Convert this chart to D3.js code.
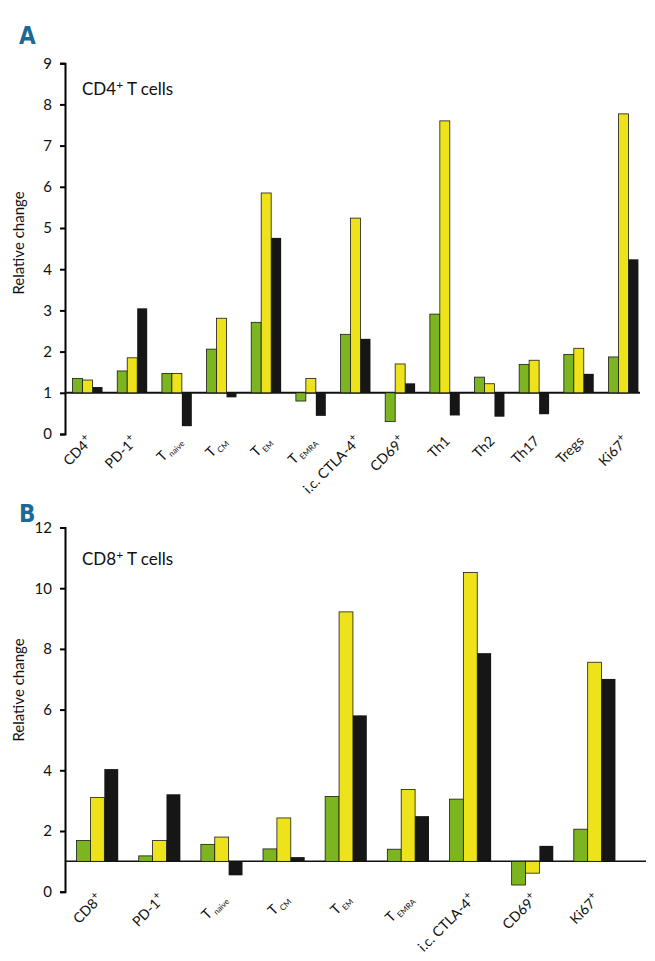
<!DOCTYPE html>
<html>
<head>
<meta charset="utf-8">
<script src="https://cdn.jsdelivr.net/npm/d3@7"></script>
<style>
  body { margin: 0; background: #fff; }
  svg text { font-family: Lato, "Open Sans", sans-serif; fill: #111; }
</style>
</head>
<body>
<div id="chart"></div>
<script>
// "^" marks a superscript, "_" a subscript
const categoriesA = ['CD4^+', 'PD-1^+', 'T_naive', 'T_CM', 'T_EM', 'T_EMRA', 'i.c. CTLA-4^+', 'CD69^+', 'Th1', 'Th2', 'Th17', 'Tregs', 'Ki67^+'];
const greenA  = [1.35, 1.53, 1.47, 2.06, 2.71, 0.80, 2.42, 0.30, 2.91, 1.38, 1.69, 1.93, 1.87];
const yellowA = [1.31, 1.85, 1.47, 2.81, 5.85, 1.35, 5.24, 1.70, 7.60, 1.22, 1.79, 2.08, 7.77];
const blackA  = [1.14, 3.05, 0.19, 0.89, 4.76, 0.44, 2.31, 1.23, 0.45, 0.42, 0.48, 1.46, 4.24];
const ticksA = [0, 1, 2, 3, 4, 5, 6, 7, 8, 9];

const categoriesB = ['CD8^+', 'PD-1^+', 'T_naive', 'T_CM', 'T_EM', 'T_EMRA', 'i.c. CTLA-4^+', 'CD69^+', 'Ki67^+'];
const greenB  = [1.69, 1.18, 1.56, 1.41, 3.14, 1.40, 3.05, 0.22, 2.06];
const yellowB = [3.10, 1.69, 1.80, 2.43, 9.22, 3.37, 10.52, 0.61, 7.56];
const blackB  = [4.04, 3.21, 0.54, 1.14, 5.81, 2.49, 7.86, 1.51, 7.01];
const ticksB = [0, 2, 4, 6, 8, 10, 12];

const colors = ['#7cb520', '#eee31b', '#161616'];

const svg = d3.select('#chart').append('svg')
    .attr('width', 655)
    .attr('height', 961);

function addLabel(text, parts, subSize) {
    // split on ^ (super) or _ (sub)
    const m = parts.match(/^([^_^]*)([_^])(.*)$/);
    if (!m) { text.text(parts); return; }
    text.append('tspan').text(m[1]);
    text.append('tspan')
        .attr('font-size', subSize)
        .attr('dy', m[2] === '^' ? -6 : 3)
        .attr('dx', m[2] === '_' ? 2 : 0)
        .text(m[3]);
}

function drawPanel(cfg) {
    const g = svg.append('g');

    const x = d3.scaleBand()
        .domain(cfg.categories)
        .range(cfg.xRange)
        .paddingInner(0.33)
        .paddingOuter(0.17);

    const sub = d3.scaleBand()
        .domain([0, 1, 2])
        .range([0, x.bandwidth()]);

    const y = d3.scaleLinear()
        .domain(cfg.yDomain)
        .range(cfg.yRange);

    // y axis
    const axis = g.append('g')
        .attr('transform', `translate(65,0)`)
        .call(d3.axisLeft(y).tickValues(cfg.ticks).tickSize(5).tickPadding(8));
    axis.select('.domain').attr('stroke', '#000').attr('stroke-width', 2);
    axis.selectAll('.tick line').attr('stroke', '#000').attr('stroke-width', 2);
    axis.selectAll('.tick text')
        .style('font-family', 'Lato, "Open Sans", sans-serif')
        .style('font-size', '15px')
        .attr('fill', '#111');

    // baseline at 1
    g.append('line')
        .attr('x1', 65).attr('x2', cfg.baseEnd)
        .attr('y1', y(1)).attr('y2', y(1))
        .attr('stroke', '#111')
        .attr('stroke-width', cfg.baseWidth);

    const series = [cfg.green, cfg.yellow, cfg.black];
    series.forEach((vals, si) => {
        g.selectAll(null)
            .data(vals)
            .enter().append('rect')
            .attr('x', (d, i) => x(cfg.categories[i]) + sub(si))
            .attr('width', sub.bandwidth())
            .attr('y', d => y(Math.max(d, 1)))
            .attr('height', d => Math.abs(y(d) - y(1)))
            .attr('fill', colors[si])
            .attr('stroke', si < 2 ? '#1a1a1a' : 'none')
            .attr('stroke-width', 0.8);
    });

    // x labels, rotated 45 degrees, ending under each group
    cfg.categories.forEach(c => {
        const t = g.append('text')
            .attr('text-anchor', 'end')
            .attr('font-size', 14)
            .attr('transform', `translate(${x(c) + x.bandwidth() / 2 + 6},${cfg.labelY}) rotate(-45)`);
        addLabel(t, c, c.includes('_') ? 8 : 11);
    });

    // panel letter
    svg.append('text')
        .attr('x', 19).attr('y', cfg.letterY)
        .style('font-family', '"DejaVu Sans Condensed", "DejaVu Sans", sans-serif')
        .style('font-weight', 'bold')
        .style('font-size', '24px')
        .style('fill', '#1b6a93')
        .text(cfg.letter);

    // cell type title
    const title = svg.append('text')
        .attr('x', 82).attr('y', cfg.titleY)
        .attr('font-size', 17);
    title.append('tspan').text(cfg.title);
    title.append('tspan').attr('font-size', 12).attr('dy', -6).text('+');
    title.append('tspan').attr('dy', 6).text(' T cells');

    // axis title
    svg.append('text')
        .attr('transform', `translate(24,${cfg.yTitleY}) rotate(-90)`)
        .attr('text-anchor', 'middle')
        .attr('font-size', 15)
        .text('Relative change');
}

drawPanel({
    letter: 'A', letterY: 44,
    title: 'CD4', titleY: 95,
    categories: categoriesA, green: greenA, yellow: yellowA, black: blackA,
    ticks: ticksA, yDomain: [0, 9], yRange: [434, 63.2],
    xRange: [65, 646], baseEnd: 640, baseWidth: 2,
    labelY: 442, yTitleY: 243
});

drawPanel({
    letter: 'B', letterY: 522,
    title: 'CD8', titleY: 565,
    categories: categoriesB, green: greenB, yellow: yellowB, black: blackB,
    ticks: ticksB, yDomain: [0, 12], yRange: [891.7, 527.5],
    xRange: [66, 626], baseEnd: 646, baseWidth: 1.5,
    labelY: 900, yTitleY: 690
});
</script>
</body>
</html>
